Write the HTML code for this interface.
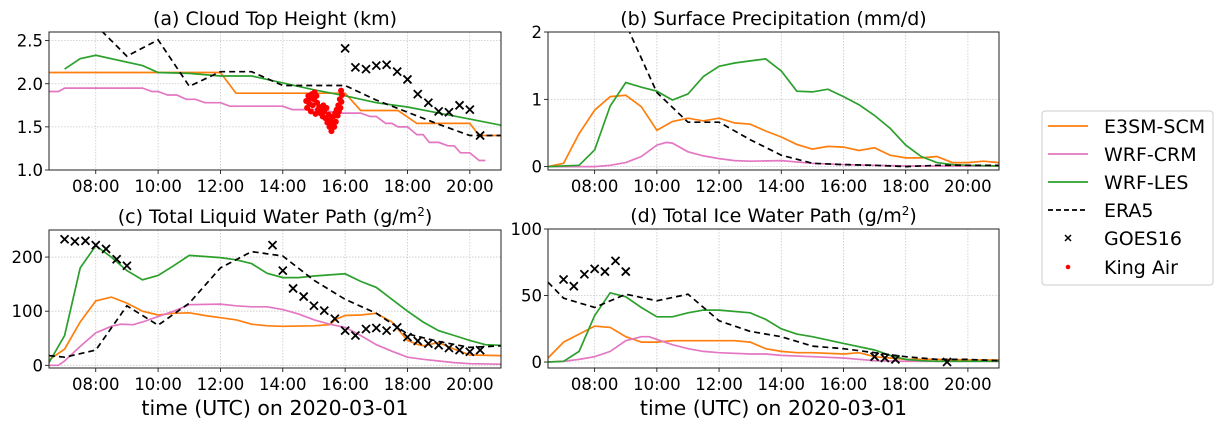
<!DOCTYPE html>
<html><head><meta charset="utf-8">
<style>
body{margin:0;background:#fff;}
svg{display:block;font-family:"DejaVu Sans","Liberation Sans",sans-serif;}
</style></head>
<body>
<svg id="fig" width="1228" height="428" viewBox="0 0 1228 428" xmlns="http://www.w3.org/2000/svg"></svg>
<script>
// ---- data ----
const xTicks = [8,10,12,14,16,18,20];
const xTickLabels = ["08:00","10:00","12:00","14:00","16:00","18:00","20:00"];

const aE3SM = [[6.5,2.13],[12,2.13],[12.5,1.89],[16,1.89],[16.5,1.69],[17.7,1.69],[18.3,1.54],[20,1.54],[20.3,1.40],[21,1.40]];
const aCRM = [[6.5,1.91],[6.8,1.91],[7.0,1.95],[9.5,1.95],[9.8,1.91],[10.0,1.91],[10.3,1.87],[10.6,1.87],[10.9,1.82],[11.2,1.82],[11.5,1.78],[12,1.78],[12.3,1.74],[14,1.74],[14.3,1.70],[15,1.70],[15.3,1.70],[15.7,1.66],[16.5,1.66],[16.8,1.62],[17.0,1.62],[17.3,1.54],[17.5,1.54],[17.7,1.50],[18,1.50],[18.3,1.41],[18.5,1.41],[18.7,1.32],[19,1.32],[19.3,1.28],[19.5,1.28],[19.7,1.20],[20,1.20],[20.3,1.11],[20.5,1.11]];
const aLES = [[7.0,2.17],[7.5,2.29],[8,2.33],[9.5,2.21],[10,2.13],[11,2.12],[12,2.09],[13,2.09],[14,2.01],[15,1.93],[16,1.86],[17,1.78],[18,1.73],[19,1.66],[20,1.59],[21,1.52]];
const aERA5 = [[7,3.0],[8,2.68],[9,2.32],[10,2.51],[11,1.97],[12,2.14],[13,2.14],[14,1.98],[16,1.98],[17,1.81],[18,1.67],[19,1.53],[20,1.40],[21,1.40]];
const aGOES = [[16,2.41],[16.33,2.19],[16.67,2.17],[17,2.21],[17.33,2.22],[17.67,2.14],[18,2.05],[18.33,1.88],[18.67,1.78],[19,1.68],[19.33,1.67],[19.67,1.75],[20,1.70],[20.33,1.40]];
const aKingAir = [[14.75,1.80],[14.78,1.72],[14.82,1.86],[14.85,1.77],[14.88,1.83],[14.9,1.68],[14.93,1.88],[14.96,1.75],[15.0,1.82],[15.02,1.90],[15.05,1.65],[15.08,1.86],[15.1,1.78],[15.13,1.70],[15.17,1.73],[15.2,1.66],[15.24,1.70],[15.28,1.62],[15.3,1.75],[15.33,1.68],[15.37,1.60],[15.4,1.72],[15.43,1.55],[15.47,1.64],[15.5,1.50],[15.53,1.58],[15.56,1.45],[15.6,1.53],[15.62,1.62],[15.65,1.50],[15.68,1.66],[15.7,1.56],[15.73,1.70],[15.76,1.63],[15.78,1.75],[15.8,1.68],[15.83,1.82],[15.85,1.72],[15.87,1.92],[15.88,1.79],[15.9,1.87]];

const bE3SM = [[6.5,0],[7,0.05],[7.5,0.49],[8,0.84],[8.5,1.04],[9,1.06],[9.5,0.89],[10,0.54],[10.5,0.67],[11,0.72],[11.5,0.68],[12,0.72],[12.5,0.65],[13,0.63],[13.5,0.53],[14,0.44],[14.5,0.33],[15,0.26],[15.5,0.30],[16,0.29],[16.5,0.24],[17,0.28],[17.5,0.17],[18,0.13],[18.5,0.13],[19,0.15],[19.5,0.06],[20,0.06],[20.5,0.08],[21,0.06]];
const bCRM = [[6.5,0],[8,0],[8.5,0.02],[9,0.06],[9.5,0.15],[10,0.32],[10.3,0.36],[10.5,0.35],[11,0.22],[11.5,0.16],[12,0.12],[12.5,0.09],[13,0.08],[14,0.09],[15,0.05],[16,0.03],[17,0.02],[18,0.01],[19,0.01],[20,0.01],[21,0.01]];
const bLES = [[6.5,0],[7.5,0.02],[8,0.25],[8.5,0.9],[9,1.25],[9.5,1.18],[10,1.12],[10.5,0.99],[11,1.08],[11.5,1.34],[12,1.49],[12.5,1.54],[13,1.57],[13.5,1.60],[14,1.42],[14.5,1.12],[15,1.11],[15.5,1.15],[16,1.04],[16.5,0.92],[17,0.76],[17.5,0.57],[18,0.32],[18.5,0.15],[19,0.06],[19.5,0.03],[20,0.02],[21,0.01]];
const bERA5 = [[8,3.3],[9,2.12],[10,1.1],[11,0.66],[12,0.66],[13,0.40],[14,0.17],[15,0.05],[16,0.03],[17,0.02],[18,0.0],[19,0.02],[20,0.02],[21,0.02]];

const cE3SM = [[6.5,10],[7,30],[7.5,80],[8,119],[8.5,126],[9,115],[9.5,100],[10,93],[10.5,96],[11,97],[11.5,92],[12,88],[12.5,84],[13,76],[13.5,73],[14,72],[15,73],[15.5,75],[15.7,85],[16,92],[16.5,93],[17,96],[17.5,80],[18,46],[18.3,39],[18.5,36],[19,42],[19.5,30],[20,19],[21,18]];
const cCRM = [[6.5,0],[6.8,0],[7,8],[7.5,35],[8,60],[8.5,72],[8.8,76],[9.2,75],[9.5,80],[10,90],[10.5,100],[11,112],[12,113],[12.5,110],[13,108],[13.5,108],[14,103],[14.5,95],[15,84],[15.5,76],[16,70],[16.5,55],[17,38],[17.5,26],[18,15],[18.5,11],[19,8],[19.5,5],[20,3],[21,2]];
const cLES = [[6.5,5],[7,55],[7.5,180],[8,221],[8.5,200],[9,175],[9.5,158],[10,166],[10.5,184],[11,203],[11.5,201],[12,199],[12.5,195],[13,188],[13.5,170],[14,162],[14.5,162],[15,165],[16,169],[16.5,155],[17,144],[17.5,122],[18,100],[18.5,80],[19,64],[19.5,55],[20,46],[20.5,38],[21,37]];
const cERA5 = [[6.5,18],[7,15],[8,28],[9,110],[10,74],[11,115],[12,180],[13,210],[14,202],[15,157],[16,122],[17,96],[18,58],[19,44],[20,33],[21,36]];
const cGOES = [[7,233],[7.33,229],[7.67,230],[8,222],[8.33,215],[8.67,196],[9,184],[13.67,222],[14,175],[14.33,142],[14.67,127],[15,110],[15.33,101],[15.67,86],[16,64],[16.33,55],[16.67,67],[17,69],[17.33,64],[17.67,70],[18,52],[18.33,45],[18.67,40],[19,37],[19.33,32],[19.67,28],[20,25],[20.33,28]];

const dE3SM = [[6.5,3],[7,15],[7.5,21],[8,27],[8.5,26],[9,19],[9.5,15],[10,15],[10.5,16],[11,16],[12,16],[12.5,16],[13,15],[13.5,10],[14,8],[14.5,7],[15,7],[16,6],[16.5,7],[17,4],[17.5,3],[18,2],[19,2],[20,1.5],[21,1.5]];
const dCRM = [[6.5,0],[7,0.5],[7.5,2],[8,4],[8.5,8],[9,16],[9.5,19],[9.75,19],[10,17],[10.5,13],[11,10],[11.5,8],[12,7],[13,6],[13.5,6],[14,5],[15,4],[16,3],[17,1],[18,0.5],[21,0.5]];
const dLES = [[6.5,0],[7,0.5],[7.5,8],[8,35],[8.5,52],[9,49],[9.5,41],[10,34],[10.5,34],[11,37],[11.5,39],[12,39],[13,37],[13.5,32],[14,25],[14.5,21],[15,19],[16,14],[17,9],[17.5,5],[18,2],[18.5,1],[19,0.5],[21,0.5]];
const dERA5 = [[6.5,60],[7,48],[8,41],[9,51],[10,46],[11,51],[12,31],[13,23],[14,19],[15,12],[16,10],[17,7],[18,4],[19,2],[20,2],[21,1]];
const dGOES = [[7,62],[7.33,57],[7.67,66],[8,70],[8.33,68],[8.67,76],[9,68],[17,4],[17.33,3],[17.67,2],[19.33,0]];

const aYTicks = [1.0,1.5,2.0,2.5], aYLabels = ["1.0","1.5","2.0","2.5"];
const bYTicks = [0,1,2], bYLabels = ["0","1","2"];
const cYTicks = [0,100,200], cYLabels = ["0","100","200"];
const dYTicks = [0,50,100], dYLabels = ["0","50","100"];

const C_E3SM="#ff7f0e", C_CRM="#e377c2", C_LES="#2ca02c";
const NS="http://www.w3.org/2000/svg";
const svg=document.getElementById('fig');
function mk(tag,attrs,parent){const e=document.createElementNS(NS,tag);for(const k in attrs)e.setAttribute(k,attrs[k]);(parent||svg).appendChild(e);return e;}

function panel(id,L,R,T,B,ymin,ymax,title,yt,yl,series,xlabel){
  const g=mk('g',{});
  
  
  const sx=h=>L+(h-6.5)/(21-6.5)*(R-L);
  const sy=v=>B-(v-ymin)/(ymax-ymin)*(B-T);
  const cp=mk('clipPath',{id:'clip'+id},g);
  mk('rect',{x:L,y:T,width:R-L,height:B-T},cp);
  xTicks.forEach((t,i)=>{
    const x=sx(t);
    const gl=mk('line',{x1:x,x2:x,y1:T,y2:B,stroke:'#c8c8c8','stroke-width':0.8,'stroke-dasharray':'1.5,1.5'},g);
    
    
    mk('line',{x1:x,x2:x,y1:B,y2:B+4,stroke:'#000','stroke-width':0.8},g);
    const tx=mk('text',{x:x,y:B+22,'font-size':16.5,'text-anchor':'middle',fill:'#000'},g);
    tx.textContent=xTickLabels[i];
    
    
  });
  yt.forEach((t,i)=>{
    const y=sy(t);
    const gl=mk('line',{x1:L,x2:R,y1:y,y2:y,stroke:'#c8c8c8','stroke-width':0.8,'stroke-dasharray':'1.5,1.5'},g);
    
    
    mk('line',{x1:L-4,x2:L,y1:y,y2:y,stroke:'#000','stroke-width':0.8},g);
    const tx=mk('text',{x:L-6,y:y+6,'font-size':16.5,'text-anchor':'end',fill:'#000'},g);
    tx.textContent=yl[i];
    
    
  });
  const pg=mk('g',{'clip-path':'url(#clip'+id+')'},g);
  series.forEach(s=>{
    if(s.type==='line'){
      const p=mk('polyline',{points:s.data.map(d=>sx(d[0]).toFixed(1)+','+sy(d[1]).toFixed(1)).join(' '),fill:'none',stroke:s.color,'stroke-width':1.7,'stroke-dasharray':s.dash||'none'},pg);
      
      
    } else if(s.type==='x'){
      s.data.forEach(d=>{
        const x=sx(d[0]),y=sy(d[1]);
        const m=mk('path',{d:`M${x-4},${y-4}L${x+4},${y+4}M${x-4},${y+4}L${x+4},${y-4}`,stroke:'#000','stroke-width':1.8},pg);
        
        
      });
    } else {
      s.data.forEach(d=>{
        const m=mk('circle',{cx:sx(d[0]),cy:sy(d[1]),r:3,fill:'#f00'},pg);
        
        
      });
    }
  });
  const fr=mk('rect',{x:L,y:T,width:R-L,height:B-T,fill:'none',stroke:'#222','stroke-width':1},g);
  
  
  const tt=mk('text',{x:(L+R)/2,y:T-7,'font-size':19,'text-anchor':'middle',fill:'#000'},g);
  tt.innerHTML=title;
  
  
  if(xlabel){
    const xl=mk('text',{x:(L+R)/2,y:B+47,'font-size':20.5,'text-anchor':'middle',fill:'#000'},g);
    xl.textContent='time (UTC) on 2020-03-01';
    
    
  }
}
const sup='<tspan baseline-shift="super" font-size="12">2</tspan>';
panel('a',49,501,32,170,1.0,2.6,'(a) Cloud Top Height (km)',aYTicks,aYLabels,[
 {type:'line',name:'e3sm-scm',color:C_E3SM,data:aE3SM},
 {type:'line',name:'wrf-crm',color:C_CRM,data:aCRM},
 {type:'line',name:'wrf-les',color:C_LES,data:aLES},
 {type:'line',name:'era5',color:'#000',dash:'6,4',data:aERA5},
 {type:'x',data:aGOES},{type:'dot',data:aKingAir}],false);
panel('b',548,999,32,170,-0.05,2.0,'(b) Surface Precipitation (mm/d)',bYTicks,bYLabels,[
 {type:'line',name:'e3sm-scm',color:C_E3SM,data:bE3SM},
 {type:'line',name:'wrf-crm',color:C_CRM,data:bCRM},
 {type:'line',name:'wrf-les',color:C_LES,data:bLES},
 {type:'line',name:'era5',color:'#000',dash:'6,4',data:bERA5}],false);
panel('c',49,501,230,368,-5,250,'(c) Total Liquid Water Path (g/m'+sup+')',cYTicks,cYLabels,[
 {type:'line',name:'e3sm-scm',color:C_E3SM,data:cE3SM},
 {type:'line',name:'wrf-crm',color:C_CRM,data:cCRM},
 {type:'line',name:'wrf-les',color:C_LES,data:cLES},
 {type:'line',name:'era5',color:'#000',dash:'6,4',data:cERA5},
 {type:'x',data:cGOES}],true);
panel('d',548,999,229,368,-4.5,100,'(d) Total Ice Water Path (g/m'+sup+')',dYTicks,dYLabels,[
 {type:'line',name:'e3sm-scm',color:C_E3SM,data:dE3SM},
 {type:'line',name:'wrf-crm',color:C_CRM,data:dCRM},
 {type:'line',name:'wrf-les',color:C_LES,data:dLES},
 {type:'line',name:'era5',color:'#000',dash:'6,4',data:dERA5},
 {type:'x',data:dGOES}],true);

const lg=mk('g',{});


mk('rect',{x:1042,y:111,width:171,height:174,rx:3,fill:'#fff',stroke:'#ccc','stroke-width':1},lg);
const legNames=["E3SM-SCM","WRF-CRM","WRF-LES","ERA5","GOES16","King Air"];
const legY=[126,154,182,210,238,267];
legNames.forEach((n,i)=>{
  const y=legY[i];
  const e=mk('g',{},lg);
  
  
  if(i<4) mk('line',{x1:1048,x2:1088,y1:y,y2:y,stroke:[C_E3SM,C_CRM,C_LES,'#000'][i],'stroke-width':1.7,'stroke-dasharray':i===3?'5,3':'none'},e);
  else if(i===4) mk('path',{d:`M1065,${y-3}L1071,${y+3}M1065,${y+3}L1071,${y-3}`,stroke:'#000','stroke-width':1.5},e);
  else mk('circle',{cx:1068,cy:y,r:2.3,fill:'#f00'},e);
  const t=mk('text',{x:1104,y:y+7,'font-size':19,fill:'#000'},e);
  t.textContent=n;
});
</script>
</body></html>
